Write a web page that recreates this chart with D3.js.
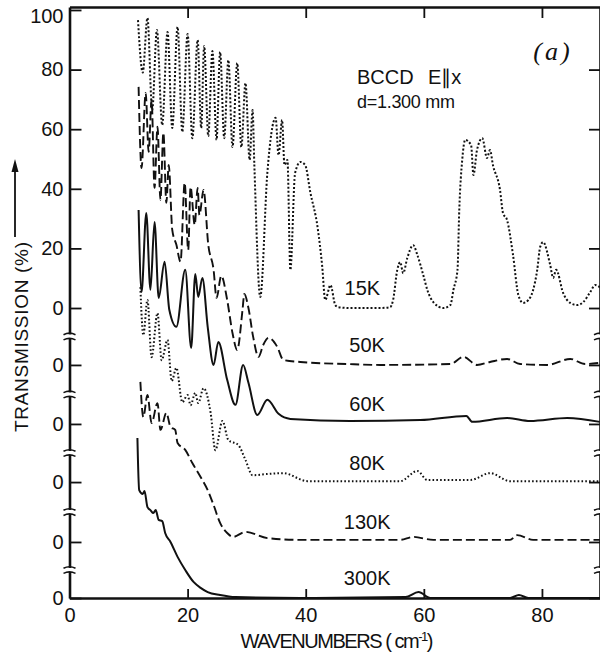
<!DOCTYPE html>
<meta charset="utf-8">
<head>
<title>BCCD far-infrared transmission</title>
<script src="https://d3js.org/d3.v7.min.js"></script>
<style>
	body { margin: 0; background: #fff; }
	text { font-family: "Liberation Sans Narrow", "Liberation Sans", sans-serif; fill: #111; }
</style>
</head>
<body>
<script>

// spectra: [wavenumber (cm-1), transmission (%)]
const t15K = [[11.6,96.6],[12.4,79.0],[13.2,97.3],[14.0,66.4],[14.8,93.3],[15.7,61.4],[16.6,92.6],[17.4,60.4],[18.3,94.3],[19.1,59.1],[20.0,91.9],[20.8,57.0],[21.7,89.9],[22.3,60.4],[22.8,87.9],[23.5,57.7],[24.2,86.2],[24.9,56.4],[25.5,85.9],[26.2,57.0],[26.9,83.2],[27.6,54.0],[28.4,82.2],[29.1,54.0],[29.8,75.5],[30.5,49.7],[31.0,66.4],[31.3,48.0],[32.3,3.7],[33.5,45.3],[34.9,63.8],[35.4,51.3],[36.0,63.1],[36.4,48.0],[36.9,49.7],[37.4,12.8],[38.2,45.3],[39.1,49.0],[39.9,48.0],[40.8,38.6],[42.0,27.2],[42.8,13.8],[43.3,2.7],[44.2,7.7],[45.0,1.0],[45.5,0.3],[47.5,0.0],[52.6,0.0],[54.3,0.3],[54.8,2.7],[55.5,12.8],[56.0,15.4],[56.5,11.7],[57.2,16.8],[58.2,21.1],[58.9,17.8],[59.9,11.1],[60.6,6.0],[61.6,2.0],[63.3,0.0],[64.5,1.0],[65.0,6.0],[65.7,12.8],[66.0,32.9],[66.5,49.7],[67.0,56.4],[68.0,54.7],[68.4,44.6],[69.0,53.0],[69.9,57.0],[70.7,50.3],[71.2,53.0],[71.7,48.0],[72.9,39.6],[73.4,31.9],[74.1,29.5],[75.1,17.8],[76.0,4.4],[76.8,1.7],[77.7,2.7],[78.5,6.0],[79.2,12.8],[79.7,20.5],[80.2,22.1],[81.4,14.4],[81.9,10.1],[82.4,12.8],[83.6,5.0],[84.8,1.7],[86.0,1.0],[87.0,2.0],[88.2,5.4],[89.0,7.7],[89.8,7.0]];

const t50K = [[11.7,93.3],[12.2,66.1],[12.9,91.3],[13.4,71.5],[13.9,88.9],[14.4,59.4],[14.9,79.9],[15.4,55.4],[15.9,77.9],[16.4,54.4],[16.8,67.1],[17.4,45.3],[18.1,40.3],[18.8,34.6],[19.5,61.1],[20.1,38.6],[20.5,59.7],[21.2,47.0],[21.7,59.4],[22.0,50.3],[22.7,58.7],[23.5,40.3],[24.4,31.9],[24.9,22.5],[25.7,29.9],[26.7,21.8],[27.6,10.7],[28.4,5.0],[29.3,18.5],[29.6,23.8],[30.3,19.1],[31.1,9.4],[32.0,2.7],[32.8,6.7],[33.7,9.1],[35.2,6.0],[36.2,1.7],[39.1,1.0],[47.0,0.3],[52.6,0.0],[64.5,0.3],[66.7,2.7],[69.0,0.0],[71.2,1.0],[74.1,2.0],[76.3,0.3],[80.9,0.0],[84.8,2.0],[87.3,0.3],[89.8,0.7]];

const t60K = [[11.7,71.8],[12.2,44.3],[13.0,70.8],[13.7,45.0],[14.4,67.8],[15.1,42.3],[16.1,54.4],[16.9,38.3],[18.1,32.6],[19.6,51.7],[20.6,25.5],[21.3,50.3],[21.8,42.6],[22.5,49.0],[23.4,32.6],[24.4,19.8],[25.2,27.5],[26.7,14.8],[28.1,6.4],[29.4,19.8],[30.3,13.8],[31.8,3.0],[33.5,8.1],[35.4,3.4],[37.4,1.7],[47.5,1.0],[59.4,1.3],[67.2,2.7],[68.2,0.7],[74.1,2.0],[78.0,1.0],[84.3,2.0],[89.8,0.7]];

const t80K = [[12.0,65.4],[12.5,49.3],[13.2,61.1],[13.9,41.9],[14.9,56.7],[15.6,40.9],[16.6,47.7],[17.3,33.9],[18.1,38.3],[19.1,26.8],[20.0,29.2],[20.5,25.8],[21.3,29.9],[21.8,26.5],[22.7,31.5],[23.9,23.2],[24.7,10.7],[25.9,20.5],[26.9,14.1],[28.6,12.4],[29.8,7.4],[31.0,2.3],[33.5,2.7],[36.2,3.0],[40.3,0.3],[56.0,0.3],[58.9,3.7],[60.6,0.7],[67.9,0.7],[71.2,3.0],[74.6,0.3],[89.8,0.3]];

const t130K = [[12.0,53.7],[12.5,41.9],[13.2,49.3],[13.9,39.9],[14.9,46.6],[15.4,37.6],[16.4,43.3],[17.1,38.6],[17.9,37.6],[18.3,33.2],[19.6,30.9],[20.8,26.5],[22.2,21.8],[23.4,17.4],[24.4,12.4],[25.5,6.4],[26.7,3.0],[27.7,1.7],[29.8,3.4],[33.5,1.3],[39.1,0.7],[56.0,0.7],[58.2,1.7],[61.6,0.7],[74.6,0.7],[75.8,2.3],[78.5,0.7],[89.8,0.7]];

const t300K = [[11.5,53.7],[11.8,36.2],[12.4,34.9],[12.7,35.9],[13.2,30.5],[13.7,29.5],[14.2,28.5],[14.6,29.5],[15.1,26.2],[15.7,25.8],[16.2,21.8],[17.1,18.8],[18.3,13.8],[19.6,9.4],[21.0,5.4],[22.2,3.4],[23.4,2.0],[25.5,1.0],[28.1,0.3],[39.1,0.0],[56.9,0.3],[59.1,2.0],[61.1,0.0],[74.6,0.0],[76.1,1.0],[77.7,0.0],[89.8,0.0]];

const temps = ['15K', '50K', '60K', '80K', '130K', '300K'];
const spectra = [t15K, t50K, t60K, t80K, t130K, t300K];
// vertical shift of each curve (in % of the top scale)
const offsets = [0, -19.1, -38.9, -58.4, -78.5, -97.3];
const yTicks = [100, 80, 60, 40, 20, 0];
const xTicks = [0, 20, 40, 60, 80];

// line style per curve
const dashes = ['2,2', '9,4', null, '1.6,2.2', '9,4', null];

const W = 600, H = 658;

const svg = d3.select('body').append('svg')
	.attr('width', W)
	.attr('height', H);

const x = d3.scaleLinear().domain([0, 90]).range([69.5, 601]);
const y = d3.scaleLinear().domain([-97.3, 101]).range([598, 7]);

// curves
const line = d3.line()
	.x(d => x(d[0]))
	.y(d => y(d[1]))
	.curve(d3.curveMonotoneX);

svg.append('g')
	.attr('class', 'curves')
	.selectAll('path')
	.data(spectra)
	.enter().append('path')
		.attr('d', (s, i) => line(s.map(d => [d[0], d[1] + offsets[i]])))
		.attr('fill', 'none')
		.attr('stroke', '#111')
		.attr('stroke-width', (s, i) => dashes[i] && dashes[i].startsWith('9') ? 1.9 : 2)
		.attr('stroke-dasharray', (s, i) => dashes[i]);

// curve labels
svg.append('g')
	.selectAll('text')
	.data(temps)
	.enter().append('text')
		.attr('x', (d, i) => x(i === 0 ? 49.6 : 50.4))
		.attr('y', (d, i) => y(offsets[i] + 4.2))
		.attr('text-anchor', 'middle')
		.style('font-size', '20px')
		.text(d => d);

// axes
const yVals = yTicks.concat(offsets.slice(1));
const yFmt = d => d >= 0 ? d : 0;

const axisStyle = g => {
	g.select('.domain').attr('stroke', '#111').attr('stroke-width', 2.6);
	g.selectAll('.tick line').attr('stroke', '#111').attr('stroke-width', 1.8);
	g.selectAll('.tick text').style('font-size', '20px').attr('fill', '#111')
		.style('font-family', '"Liberation Sans Narrow", "Liberation Sans", sans-serif');
};

svg.append('g')
	.attr('transform', `translate(${x(0)},0)`)
	.call(d3.axisLeft(y).tickValues(yVals).tickFormat(yFmt).tickSizeInner(-12).tickSizeOuter(0).tickPadding(6))
	.call(axisStyle)
	.call(g => g.selectAll('.tick').filter(d => d === 100).select('text').attr('dy', '0.62em'));

svg.append('g')
	.attr('transform', `translate(0,${y(-97.3)})`)
	.call(d3.axisBottom(x).tickValues(xTicks).tickSizeInner(-9).tickSizeOuter(0).tickPadding(10))
	.call(axisStyle)
	.call(g => g.selectAll('.tick').filter(d => d === 0).select('line').remove());

svg.append('g')
	.attr('transform', `translate(0,${y(101)})`)
	.call(d3.axisTop(x).tickValues(xTicks.slice(1)).tickFormat('').tickSizeInner(-11).tickSizeOuter(0))
	.call(axisStyle);

svg.append('g')
	.attr('transform', `translate(${x(90) - 1},0)`)
	.call(d3.axisRight(y).tickValues(yVals.slice(1)).tickFormat('').tickSizeInner(-11).tickSizeOuter(0))
	.call(axisStyle);

// axis breaks between the shifted zeros
const breaks = offsets.slice(1).map((o, i) => (o + offsets[i]) / 2);
const brk = svg.append('g').attr('class', 'breaks');
[x(0), x(90) - 1].forEach(bx => {
	breaks.forEach(b => {
		const by = y(b);
		brk.append('rect')
			.attr('x', bx - 3).attr('y', by - 2)
			.attr('width', 6).attr('height', 4)
			.attr('fill', '#fff');
		[-2.6, 2.6].forEach(dy => {
			brk.append('path')
				.attr('d', `M${bx - 6},${by + dy + 0.8} Q${bx},${by + dy - 2.2} ${bx + 6},${by + dy + 0.8}`)
				.attr('fill', 'none')
				.attr('stroke', '#111')
				.attr('stroke-width', 1.6);
		});
	});
});

// axis titles
svg.append('text')
	.attr('x', 337)
	.attr('y', 648)
	.attr('text-anchor', 'middle')
	.style('font-size', '20px')
	.attr('textLength', 193)
	.attr('lengthAdjust', 'spacing')
	.html('WAVENUMBERS ( cm<tspan dy="-7" style="font-size:13px">-1</tspan><tspan dy="7">)</tspan>');

svg.append('text')
	.attr('transform', 'translate(28,337) rotate(-90)')
	.attr('text-anchor', 'middle')
	.style('font-size', '19px')
	.attr('textLength', 190)
	.attr('lengthAdjust', 'spacing')
	.text('TRANSMISSION (%)');

svg.append('line')
	.attr('x1', 15).attr('x2', 15)
	.attr('y1', 237).attr('y2', 170)
	.attr('stroke', '#111')
	.attr('stroke-width', 1.8);
svg.append('path')
	.attr('d', 'M15,159 L11.5,172 L18.5,172 Z')
	.attr('fill', '#111');

// sample info
svg.append('text').attr('x', 357).attr('y', 84).style('font-size', '20px').text('BCCD');
svg.append('text').attr('x', 428).attr('y', 84).style('font-size', '20px').text('E\u2225x');
svg.append('text').attr('x', 357).attr('y', 108).style('font-size', '18px')
	.attr('textLength', 98).attr('lengthAdjust', 'spacing').text('d=1.300 mm');

svg.append('text')
	.attr('x', 553)
	.attr('y', 60)
	.attr('text-anchor', 'middle')
	.style('font-family', '"Liberation Serif", serif')
	.style('font-style', 'italic')
	.style('font-size', '26px')
	.style('letter-spacing', '3px')
	.text('(a)');

</script>
</body>
</html>
